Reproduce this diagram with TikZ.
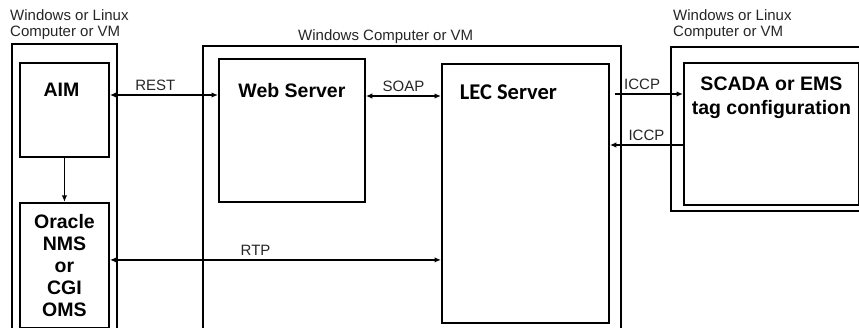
\documentclass[tikz,border=0pt]{standalone}
\usepackage{fontspec}
\setmainfont{Liberation Sans}
\newfontfamily\lecfont{Carlito}
\usetikzlibrary{positioning}
\usetikzlibrary{arrows.meta}

\begin{document}
\begin{tikzpicture}[
    x=1pt, y=-1pt,
    >={Latex[length=6.5pt,width=5.5pt]},
    hostbox/.style={draw, line width=1.9pt, inner sep=0pt, anchor=north west},
    appbox/.style={draw, line width=1.9pt, inner sep=0pt, anchor=north west, align=center, font=\fontsize{19.5}{22}\selectfont\bfseries},
    hostlabel/.style={font=\fontsize{15}{16.5}\selectfont, text=black!85, align=left, inner sep=0pt, anchor=south west},
    boxtitle/.style={font=\fontsize{19.5}{24}\selectfont\bfseries, align=center, inner sep=0pt, anchor=north},
    linklabel/.style={font=\fontsize{15}{16}\selectfont, text=black!85, inner sep=1pt, above=3pt},
    link/.style={line width=1.6pt}
    ]
    \useasboundingbox (0,0) rectangle (859,328);
    \clip (0,0) rectangle (859,328);

    %Nodes
    \node[hostbox, minimum width=105pt, minimum height=300pt] (leftbox) at (11,43) {};
    \node[hostlabel, xshift=-1pt, yshift=3pt] (leftlbl) at (leftbox.north west) {Windows or Linux\\Computer or VM};

    \node[appbox, minimum width=89pt, minimum height=94pt] (AIM) at (19,62) {};
    \node[boxtitle, below=21pt of AIM.north, xshift=-3pt] (aimtxt) {AIM};
    \node[appbox, minimum width=89pt, minimum height=125pt, below=44pt of AIM] (Oracle) {Oracle\\NMS\\or\\CGI\\OMS};

    \node[hostbox, minimum width=418pt, minimum height=300pt] (midbox) at (202,45) {};
    \node[hostlabel, xshift=96pt, yshift=1pt] (midlbl) at (midbox.north west) {Windows Computer or VM};

    \node[appbox, minimum width=146pt, minimum height=143pt] (Web) at (218,58) {};
    \node[boxtitle, below=25pt of Web.north] (webtxt) {Web Server};

    \node[appbox, minimum width=167pt, minimum height=259pt] (LEC) at (441,63) {};
    \node[boxtitle, font=\fontsize{22.5}{24}\selectfont\lecfont\bfseries, below=22pt of LEC.north, xshift=-17pt] (lectxt) {LEC Server};

    \node[hostbox, minimum width=200pt, minimum height=164pt] (rightbox) at (670,46) {};
    \node[hostlabel, xshift=3pt, yshift=6pt] (rightlbl) at (rightbox.north west) {Windows or Linux\\Computer or VM};

    \node[appbox, minimum width=175pt, minimum height=142pt] (SCADA) at (683,62) {};
    \node[boxtitle, below=15pt of SCADA.north] (scadatxt) {SCADA or EMS\\tag configuration};

    %Lines
    \draw[link, ->] (AIM) -- (Oracle);
    \draw[link, <->] ([yshift=-33pt]AIM.north east) coordinate (restL) -- node[linklabel, pos=0.42] {REST} (restL -| Web.west);
    \draw[link, <->] ([yshift=-38pt]Web.north east) coordinate (soapL) -- node[linklabel] {SOAP} (soapL -| LEC.west);
    \draw[link, ->] ([xshift=5pt, yshift=-31pt]LEC.north east) coordinate (iccpA) -- node[linklabel, pos=0.4] {ICCP} (iccpA -| SCADA.west);
    \draw[link, ->] ([yshift=-83pt]SCADA.north west) coordinate (iccpB) -- node[linklabel] {ICCP} (iccpB -| LEC.east);
    \draw[link, <->] ([yshift=-58pt]Oracle.north east) coordinate (rtpL) -- node[linklabel, pos=0.44] {RTP} (rtpL -| LEC.west);

\end{tikzpicture}
\end{document}
